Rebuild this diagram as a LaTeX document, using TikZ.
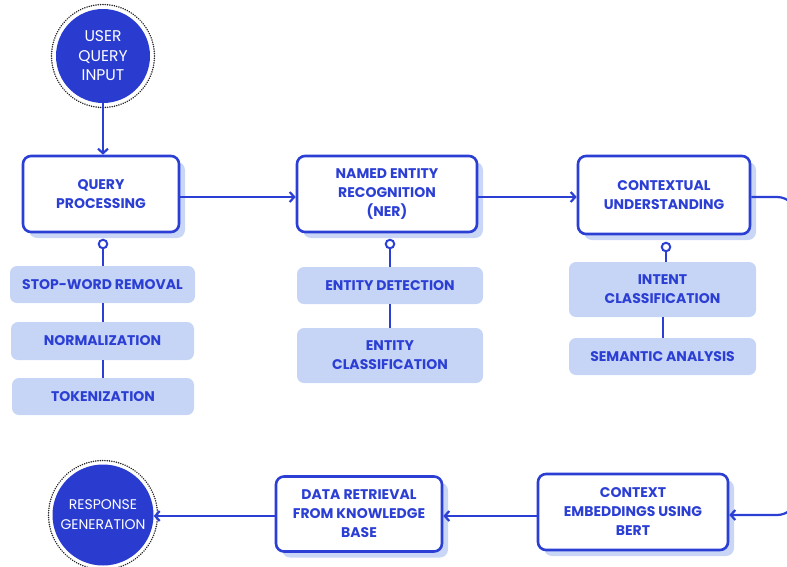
\documentclass[tikz,border=0pt]{standalone}
\usepackage{fontspec}
\setmainfont{Poppins}
\usetikzlibrary{arrows.meta,shadows}
\definecolor{mainblue}{HTML}{2C3FD4}
\definecolor{lightbox}{HTML}{C6D4F5}
\definecolor{shadowc}{HTML}{C9D6F6}
\definecolor{circfill}{HTML}{2A3CCF}
\tikzset{
  mainbox/.style={draw=mainblue, line width=2.6pt, rounded corners=8pt, fill=white,
    text=mainblue, font=\bfseries\fontsize{14}{19}\selectfont, align=center, inner sep=0pt,
    drop shadow={shadow xshift=6pt, shadow yshift=-6pt, fill=shadowc, opacity=1}},
  subbox/.style={fill=lightbox, rounded corners=7pt, text=mainblue,
    font=\bfseries\fontsize{14}{19}\selectfont, align=center, inner sep=0pt},
  endcirc/.style={circle, fill=circfill, text=white, inner sep=0pt, align=center},
  ring/.style={draw=black!85, line width=1.7pt, dash pattern=on 0.01pt off 2.3pt, line cap=round},
  pin/.style={circle, draw=mainblue, line width=2pt, fill=white, minimum size=8.5pt, inner sep=0pt},
  link/.style={draw=mainblue, line width=2.2pt},
  flow/.style={draw=mainblue, line width=2.2pt, -{Straight Barb[length=4.5pt,width=10pt,line width=2.2pt]}},
}
\begin{document}
\begin{tikzpicture}[x=1pt,y=-1pt]
\useasboundingbox (0,0) rectangle (787,566);
% start and end circles
\draw[ring] (103,56) circle (51.5);
\node[endcirc, minimum size=94pt, font=\fontsize{15.5}{19.5}\selectfont] (user) at (103,56) {USER\\QUERY\\INPUT};
\draw[ring] (103,515) circle (54.5);
\node[endcirc, minimum size=101pt, font=\fontsize{14}{20}\selectfont] (resp) at (103,515) {RESPONSE\\GENERATION};
% main boxes
\node[mainbox, minimum width=156pt, minimum height=76pt] (qp) at (101,194) {QUERY\\PROCESSING};
\node[mainbox, minimum width=180pt, minimum height=76pt] (ner) at (387,194) {NAMED ENTITY\\RECOGNITION\\(NER)};
\node[mainbox, minimum width=172pt, minimum height=78pt] (cu) at (664,195) {CONTEXTUAL\\UNDERSTANDING};
\node[mainbox, minimum width=190pt, minimum height=76pt] (ce) at (633,512) {CONTEXT\\EMBEDDINGS USING\\BERT};
\node[mainbox, minimum width=166pt, minimum height=75pt] (dr) at (359,514) {DATA RETRIEVAL\\FROM KNOWLEDGE\\BASE};
% sub boxes
\node[subbox, minimum width=185pt, minimum height=37pt] (sw) at (102.5,284.5) {STOP-WORD REMOVAL};
\node[subbox, minimum width=183pt, minimum height=38pt] (norm) at (102.5,341) {NORMALIZATION};
\node[subbox, minimum width=182pt, minimum height=37pt] (tok) at (103,396.5) {TOKENIZATION};
\node[subbox, minimum width=186pt, minimum height=37pt] (ed) at (390,285.5) {ENTITY DETECTION};
\node[subbox, minimum width=186pt, minimum height=55pt] (ec) at (390,355.5) {ENTITY\\CLASSIFICATION};
\node[subbox, minimum width=187pt, minimum height=55pt] (ic) at (662.5,289.5) {INTENT\\CLASSIFICATION};
\node[subbox, minimum width=187pt, minimum height=37pt] (sa) at (662.5,356.5) {SEMANTIC ANALYSIS};
% pins
\node[pin] (qpp) at (103,244) {};
\node[pin] (nerp) at (390,244) {};
\node[pin] (cup) at (666,247) {};
\draw[link] (qpp.south) -- (qpp.south |- sw.north);
\draw[link] (sw.south -| 103,0) -- (norm.north -| 103,0);
\draw[link] (norm.south -| 103,0) -- (tok.north -| 103,0);
\draw[link] (nerp.south) -- (nerp.south |- ed.north);
\draw[link] (ed.south -| 390,0) -- (ec.north -| 390,0);
\draw[link] (cup.south) -- (cup.south |- ic.north);
\draw[link] (ic.south -| 663,0) -- (sa.north -| 663,0);
% flow arrows
\draw[flow] (user.south) -- (qp.north -| user.south);
\draw[flow] (qp.east |- 0,197) -- (ner.west |- 0,197);
\draw[flow] (ner.east |- 0,197) -- (cu.west |- 0,197);
\coordinate (tr) at (797,197);
\coordinate (br) at (797,515);
\draw[flow, rounded corners=20pt] (cu.east |- tr) -- (tr) -- (br) -- (ce.east |- br);
\draw[flow] (ce.west |- 0,516) -- (dr.east |- 0,516);
\draw[flow] (dr.west |- 0,516) -- (resp.east |- 0,516);
\end{tikzpicture}
\end{document}
